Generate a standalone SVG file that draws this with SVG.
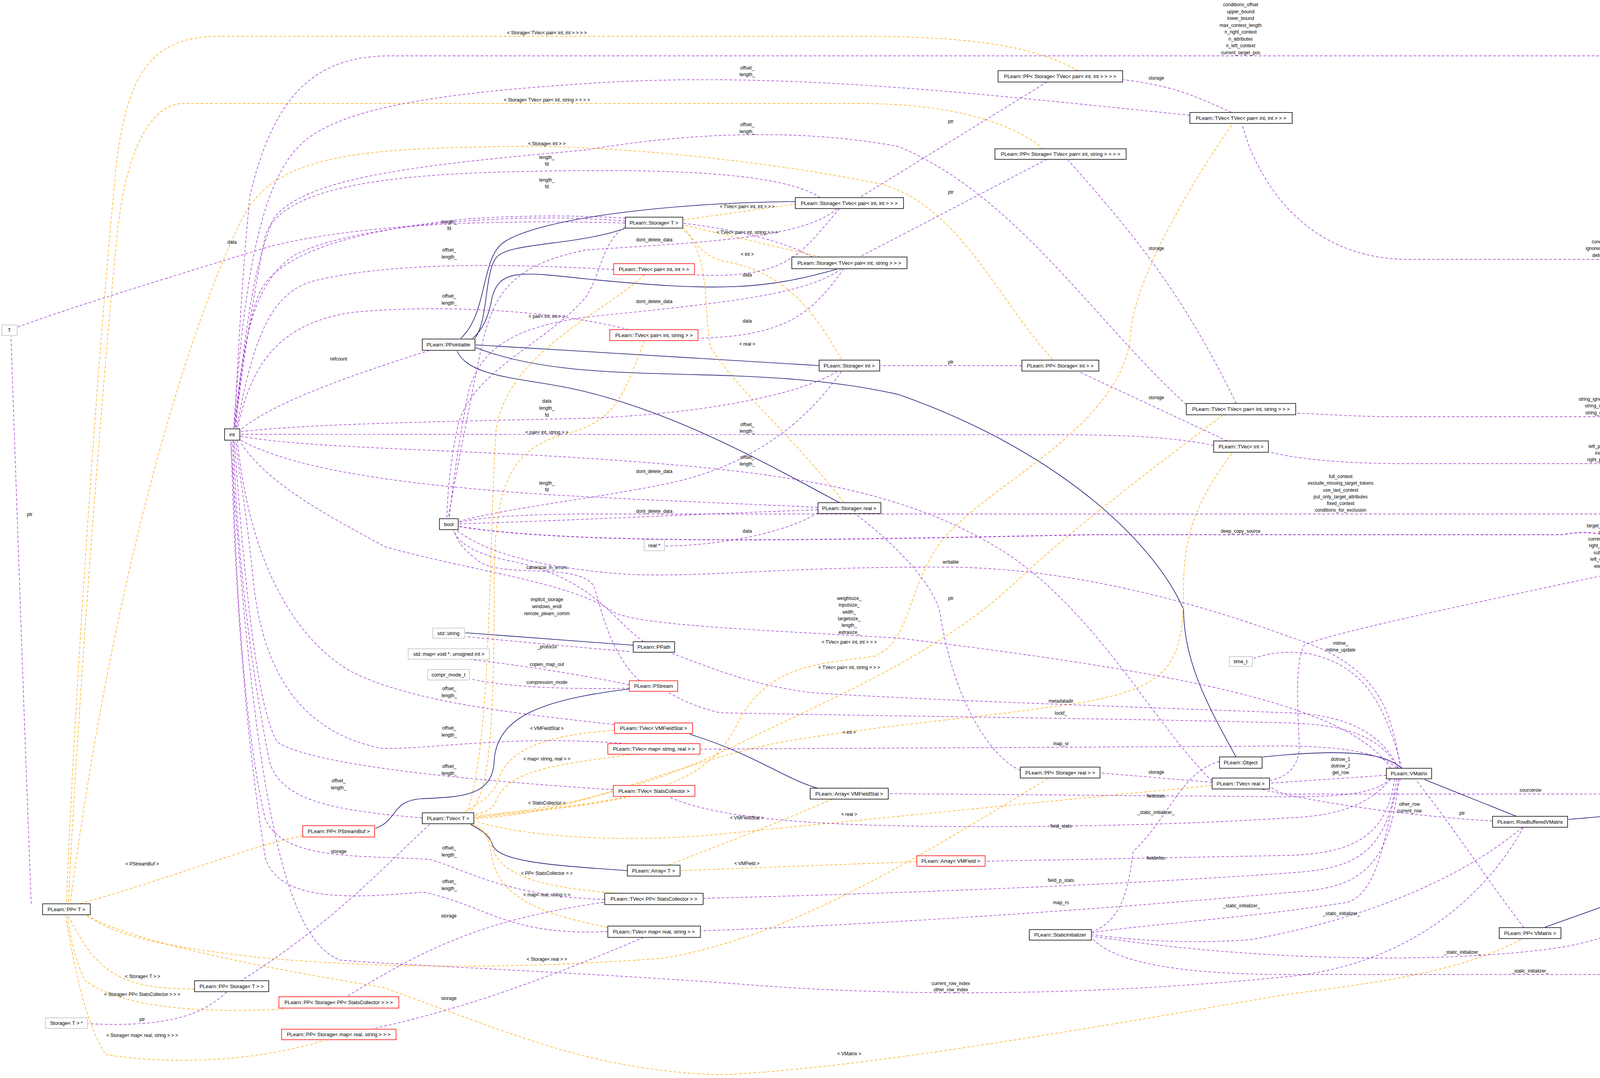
<svg xmlns="http://www.w3.org/2000/svg" width="4995" height="2760" viewBox="0 0 4995 2760">
<style>
.bg{fill:#fff}
rect.k{fill:#fff;stroke:#000;stroke-width:1.5}
rect.r{fill:#fff;stroke:#f00;stroke-width:1.5}
rect.g{fill:#fff;stroke:#bfbfbf;stroke-width:1.5}
rect.s{fill:#bfbfbf;stroke:#000;stroke-width:1.5}
text{font-family:"Liberation Sans",Arial,sans-serif;fill:#000}
.t{font-size:13px;text-anchor:middle}
.l{font-size:12px;text-anchor:middle}
path{fill:none}
.p{stroke:#9a32cd;stroke-width:1.4;stroke-dasharray:7,5;marker-end:url(#mp)}
.o{stroke:#ffa500;stroke-width:1.4;stroke-dasharray:7,5;marker-end:url(#mo)}
.n{stroke:#191970;stroke-width:1.6;marker-end:url(#mn)}
</style>
<defs>
<marker id="mp" viewBox="0 0 10 10" refX="9" refY="5" markerWidth="10" markerHeight="10" markerUnits="userSpaceOnUse" orient="auto"><path d="M0,0 L10,5 L0,10 z" fill="#9a32cd" stroke="none"/></marker>
<marker id="mo" viewBox="0 0 10 10" refX="9" refY="5" markerWidth="12" markerHeight="12" markerUnits="userSpaceOnUse" orient="auto"><path d="M0,0 L10,5 L0,10 z" fill="#ffa500" stroke="none"/></marker>
<marker id="mn" viewBox="0 0 10 10" refX="9" refY="5" markerWidth="11" markerHeight="11" markerUnits="userSpaceOnUse" orient="auto"><path d="M0,0 L10,5 L0,10 z" fill="#191970" stroke="none"/></marker>
</defs>
<rect class="bg" x="0" y="0" width="4995" height="2760"/>
<g id="edges">
<!-- inheritance -->
<path class="n" d="M1600,585 C1470,630 1300,620 1270,660 C1240,700 1250,820 1216,866"/>
<path class="n" d="M2036,516 C1700,520 1380,560 1290,620 C1230,660 1250,800 1180,866"/>
<path class="n" d="M2143,689 C1959,741 1844,748 1500,714 C1330,695 1280,690 1260,760 C1250,820 1230,850 1210,866"/>
<path class="n" d="M2097,936 L1218,883"/>
<path class="n" d="M2149,1287 C1950,1180 1700,1040 1440,990 C1300,965 1200,960 1170,899"/>
<path class="n" d="M3164,1938 C3100,1820 3030,1700 3030,1560 C2950,1380 2700,1150 2300,1010 C1900,920 1500,1000 1218,890"/>
<path class="n" d="M1621,1652 L1191,1620"/>
<path class="n" d="M1611,1764 C1400,1790 1270,1830 1265,1950 C1260,2040 1180,2040 1080,2045 C1000,2050 1020,2100 961,2121"/>
<path class="n" d="M2093,2018 C2010,1995 1930,1930 1766,1880"/>
<path class="n" d="M1606,2229 C1400,2215 1270,2205 1260,2160 C1250,2135 1230,2125 1205,2111"/>
<path class="n" d="M3589,1968 C3550,1930 3460,1915 3233,1938"/>
<path class="n" d="M3882,2090 L3647,1996"/>
<path class="n" d="M4386,2066 L4015,2098"/>
<path class="n" d="M4840,1330 L4476,2041"/>
<path class="n" d="M4210,2283 L3955,2374"/>
<!-- template -->
<path class="o" d="M2760,181 C2650,120 2500,93 2200,93 L560,93 C380,93 330,200 300,400 C250,900 190,1800 170,2312"/>
<text class="l" x="1400" y="88">&lt; Storage&lt; TVec&lt; pair&lt; int, int &gt; &gt; &gt; &gt;</text>
<path class="o" d="M2670,381 C2600,320 2450,265 2200,265 L470,265 C380,265 320,400 300,600 C260,1000 200,1800 175,2312"/>
<text class="l" x="1400" y="260">&lt; Storage&lt; TVec&lt; pair&lt; int, string &gt; &gt; &gt; &gt;</text>
<path class="o" d="M2694,920 C2550,760 2450,520 2250,470 C1900,400 1500,370 1300,375 C900,380 700,400 620,560 C500,800 300,1400 180,2312"/>
<text class="l" x="1400" y="372">&lt; Storage&lt; int &gt; &gt;</text>
<path class="o" d="M2040,522 L1750,563"/>
<text class="l" x="1913" y="533">&lt; TVec&lt; pair&lt; int, int &gt; &gt; &gt;</text>
<path class="o" d="M2100,658 L1750,576"/>
<text class="l" x="1913" y="599">&lt; TVec&lt; pair&lt; int, string &gt; &gt; &gt;</text>
<path class="o" d="M2154,920 C2080,790 2010,700 1860,670 C1800,660 1780,620 1752,584"/>
<text class="l" x="1913" y="655">&lt; int &gt;</text>
<path class="o" d="M2160,1286 C2050,1140 1880,990 1820,890 C1800,800 1820,640 1746,586"/>
<text class="l" x="1913" y="885">&lt; real &gt;</text>
<path class="o" d="M1650,703 C1550,800 1300,900 1270,1100 C1250,1400 1260,1900 1195,2080"/>
<text class="l" x="1400" y="814">&lt; pair&lt; int, int &gt; &gt;</text>
<path class="o" d="M1650,872 C1600,1000 1580,1080 1450,1110 C1300,1150 1265,1250 1265,1500 C1265,1900 1250,2040 1200,2080"/>
<path class="o" d="M3153,321 C3000,540 2900,750 2895,850 C2880,1100 2500,1250 2400,1400 C2320,1520 2330,1640 2240,1680 C2100,1700 1980,1700 1900,1830 C1820,2000 1700,2050 1215,2088"/>
<text class="l" x="2174" y="1648">&lt; TVec&lt; pair&lt; int, int &gt; &gt; &gt;</text>
<path class="o" d="M3130,1063 C2950,1200 2750,1350 2600,1490 C2400,1680 2100,1800 1900,1900 C1700,2000 1500,2060 1215,2092"/>
<text class="l" x="2174" y="1713">&lt; TVec&lt; pair&lt; int, string &gt; &gt; &gt;</text>
<path class="o" d="M3153,1161 C3080,1260 3030,1350 3030,1500 C3030,1700 3000,1760 2760,1800 C2500,1840 2300,1850 2000,1900 C1700,1960 1500,2080 1215,2096"/>
<text class="l" x="2174" y="1879">&lt; int &gt;</text>
<path class="o" d="M3103,2011 C2700,2050 2200,2100 1800,2140 C1500,2160 1300,2130 1215,2102"/>
<text class="l" x="2174" y="2089">&lt; real &gt;</text>
<path class="o" d="M1573,1870 C1420,1880 1300,1910 1275,2000 C1260,2040 1220,2060 1187,2080"/>
<text class="l" x="1400" y="1869">&lt; VMFieldStat &gt;</text>
<path class="o" d="M1610,1932 C1460,1955 1300,1965 1270,2050 C1260,2075 1240,2080 1215,2085"/>
<text class="l" x="1400" y="1947">&lt; map&lt; string, real &gt; &gt;</text>
<path class="o" d="M1615,2039 C1518,2063 1300,2085 1215,2094"/>
<text class="l" x="1400" y="2060">&lt; StatsCollector &gt;</text>
<path class="o" d="M1583,2287 C1355,2271 1268,2232 1257,2154 C1250,2130 1230,2118 1205,2110"/>
<text class="l" x="1400" y="2240">&lt; PP&lt; StatsCollector &gt; &gt;</text>
<path class="o" d="M1556,2374 C1355,2336 1268,2284 1257,2180 C1252,2140 1230,2120 1209,2110"/>
<text class="l" x="1400" y="2295">&lt; map&lt; real, string &gt; &gt;</text>
<path class="o" d="M2131,2046 C1959,2120 1844,2163 1714,2214"/>
<text class="l" x="1912" y="2098">&lt; VMFieldStat &gt;</text>
<path class="o" d="M2347,2206 L1743,2229"/>
<text class="l" x="1912" y="2215">&lt; VMField &gt;</text>
<path class="o" d="M775,2140 C650,2163 488,2232 208,2313"/>
<text class="l" x="364" y="2216">&lt; PStreamBuf &gt;</text>
<path class="o" d="M498,2532 C325,2532 249,2501 175,2344"/>
<text class="l" x="365" y="2504">&lt; Storage&lt; T &gt; &gt;</text>
<path class="o" d="M726,2584 C542,2592 325,2588 217,2510 C190,2450 180,2400 172,2344"/>
<text class="l" x="364" y="2550">&lt; Storage&lt; PP&lt; StatsCollector &gt; &gt; &gt;</text>
<path class="o" d="M824,2666 C650,2718 434,2727 271,2700 C217,2620 185,2450 168,2344"/>
<text class="l" x="364" y="2655">&lt; Storage&lt; map&lt; real, string &gt; &gt; &gt;</text>
<path class="o" d="M2682,1994 C2304,2224 2017,2397 1700,2453 C1355,2480 976,2482 650,2450 C400,2420 300,2397 222,2344"/>
<text class="l" x="1400" y="2460">&lt; Storage&lt; real &gt; &gt;</text>
<path class="o" d="M3893,2406 C3773,2466 3658,2501 3300,2545 C2648,2657 2189,2735 1844,2752 C1500,2740 1300,2640 976,2527 C650,2475 325,2406 224,2344"/>
<text class="l" x="2174" y="2702">&lt; VMatrix &gt;</text>
<!-- member: ptr / storage / data -->
<path class="p" d="M2680,210 L2202,505"/>
<text class="l" x="2434" y="315">ptr</text>
<path class="p" d="M2680,408 L2202,657"/>
<text class="l" x="2434" y="496">ptr</text>
<path class="p" d="M2616,936 L2254,936"/>
<text class="l" x="2434" y="931">ptr</text>
<path class="p" d="M2612,1972 C2533,1938 2441,1790 2407,1573 C2390,1480 2246,1357 2191,1317"/>
<text class="l" x="2434" y="1536">ptr</text>
<path class="p" d="M580,2540 C520,2597 434,2631 226,2621"/>
<text class="l" x="364" y="2614">ptr</text>
<path class="p" d="M80,2314 C60,1800 40,1200 28,861"/>
<text class="l" x="76" y="1321">ptr</text>
<path class="p" d="M1600,571 C1200,560 900,580 694,630 C500,690 200,780 46,837"/>
<text class="l" x="594" y="624">data</text>
<path class="p" d="M3153,288 C3050,241 3000,220 2876,204"/>
<text class="l" x="2960" y="204">storage</text>
<path class="p" d="M3165,1033 C3050,800 2950,650 2734,410"/>
<text class="l" x="2960" y="640">storage</text>
<path class="p" d="M3142,1129 L2763,952"/>
<text class="l" x="2960" y="1022">storage</text>
<path class="p" d="M3103,2003 L2818,1979"/>
<text class="l" x="2960" y="1981">storage</text>
<path class="p" d="M1100,2111 C1000,2200 867,2354 618,2510"/>
<text class="l" x="867" y="2184">storage</text>
<path class="p" d="M1545,2310 C1247,2354 1100,2420 889,2551"/>
<text class="l" x="1149" y="2349">storage</text>
<path class="p" d="M1648,2400 C1409,2501 1200,2580 954,2634"/>
<text class="l" x="1149" y="2560">storage</text>
<path class="p" d="M2149,534 C2050,650 2017,714 1780,704"/>
<text class="l" x="1913" y="708">data</text>
<path class="p" d="M2160,688 C2080,800 2017,860 1789,866"/>
<text class="l" x="1913" y="826">data</text>
<path class="p" d="M2094,1313 C1994,1375 1800,1398 1703,1398"/>
<text class="l" x="1913" y="1364">data</text>
<!-- to int -->
<path class="p" d="M1601,566 C1300,540 900,580 760,650 C640,720 620,900 600,1096"/>
<text class="l" x="1150" y="572">length_</text><text class="l" x="1150" y="589">fd</text>
<path class="p" d="M2100,506 C2000,440 1700,430 1300,440 C900,450 720,500 680,600 C640,800 620,950 602,1096"/>
<text class="l" x="1400" y="407">length_</text><text class="l" x="1400" y="424">fd</text>
<path class="p" d="M2080,658 C1900,560 1500,540 1200,560 C900,590 700,650 660,760 C630,850 615,950 604,1096"/>
<text class="l" x="1400" y="465">length_</text><text class="l" x="1400" y="482">fd</text>
<path class="p" d="M1571,690 C1300,675 1000,670 800,720 C700,750 650,850 606,1096"/>
<text class="l" x="1150" y="644">offset_</text><text class="l" x="1150" y="662">length_</text>
<path class="p" d="M1610,844 C1400,790 1100,780 900,800 C700,830 640,950 608,1097"/>
<text class="l" x="1150" y="762">offset_</text><text class="l" x="1150" y="780">length_</text>
<path class="p" d="M3046,295 C2500,240 2000,180 1500,214 C1100,240 850,280 760,380 C650,500 620,800 598,1096"/>
<text class="l" x="1913" y="178">offset_</text><text class="l" x="1913" y="195">length_</text>
<path class="p" d="M3037,1036 C2800,820 2600,500 2300,375 C2000,320 1700,350 1500,384 C1100,420 780,450 700,560 C640,700 625,900 600,1096"/>
<text class="l" x="1913" y="323">offset_</text><text class="l" x="1913" y="341">length_</text>
<path class="p" d="M3107,1140 C3000,1120 2900,1113 2700,1113 L616,1112"/>
<text class="l" x="1913" y="1091">offset_</text><text class="l" x="1913" y="1108">length_</text>
<text class="l" x="1400" y="1111">&lt; pair&lt; int, string &gt; &gt;</text>
<path class="p" d="M3103,2000 C2950,1850 2800,1550 2550,1400 C2300,1250 2000,1210 1600,1180 C1200,1150 800,1150 616,1117"/>
<text class="l" x="1913" y="1175">offset_</text><text class="l" x="1913" y="1192">length_</text>
<path class="p" d="M1100,897 C900,960 700,1030 616,1100"/>
<text class="l" x="867" y="923">refcount</text>
<path class="p" d="M1081,2094 C850,2075 720,2050 690,1950 C640,1700 605,1400 598,1129"/>
<text class="l" x="867" y="2003">offset_</text><text class="l" x="867" y="2021">length_</text>
<path class="p" d="M1573,1855 C1300,1825 1050,1795 900,1720 C760,1640 640,1450 608,1129"/>
<text class="l" x="1150" y="1767">offset_</text><text class="l" x="1150" y="1785">length_</text>
<path class="p" d="M1604,1904 C1300,1880 1100,1920 976,1916 C800,1880 680,1760 650,1500 C630,1300 610,1200 604,1129"/>
<text class="l" x="1150" y="1868">offset_</text><text class="l" x="1150" y="1886">length_</text>
<path class="p" d="M1570,2022 C1200,1998 800,1960 710,1900 C650,1800 620,1400 600,1129"/>
<text class="l" x="1150" y="1966">offset_</text><text class="l" x="1150" y="1984">length_</text>
<path class="p" d="M1548,2303 C1300,2295 1200,2230 1100,2200 C900,2190 730,2200 680,2100 C630,1900 600,1500 596,1129"/>
<text class="l" x="1150" y="2175">offset_</text><text class="l" x="1150" y="2193">length_</text>
<path class="p" d="M1556,2385 C1300,2397 1250,2320 1084,2284 C900,2300 720,2310 680,2200 C630,1900 600,1500 592,1129"/>
<text class="l" x="1150" y="2261">offset_</text><text class="l" x="1150" y="2279">length_</text>
<path class="p" d="M2143,951 C2050,1010 1800,1060 1500,1071 C1100,1080 800,1085 616,1105"/>
<text class="l" x="1400" y="1031">data</text><text class="l" x="1400" y="1049">length_</text><text class="l" x="1400" y="1067">fd</text>
<path class="p" d="M2094,1299 C1800,1285 1500,1275 1300,1259 C1000,1235 750,1200 616,1127"/>
<text class="l" x="1400" y="1241">length_</text><text class="l" x="1400" y="1258">fd</text>
<path class="p" d="M3560,1967 C3450,1800 3000,1720 2304,1634 C1900,1610 1600,1600 1560,1560 C1450,1490 1200,1460 986,1400 C800,1300 680,1230 614,1131"/>
<text class="l" x="2174" y="1536">weightsize_</text><text class="l" x="2174" y="1553">inputsize_</text><text class="l" x="2174" y="1571">width_</text><text class="l" x="2174" y="1588">targetsize_</text><text class="l" x="2174" y="1605">length_</text><text class="l" x="2174" y="1623">extrasize_</text>
<path class="p" d="M3900,2118 C3800,2300 3600,2470 3300,2500 C2900,2540 2400,2560 1900,2520 C1500,2490 1000,2470 870,2458 C720,2400 650,2000 590,1129"/>
<text class="l" x="2434" y="2522">current_row_index</text><text class="l" x="2434" y="2538">other_row_index</text>
<path class="p" d="M4935,1301 C4900,900 4850,300 4700,143 L1000,143 C800,143 700,250 640,500 C620,700 610,900 600,1096"/>
<text class="l" x="3176" y="16">conditions_offset</text><text class="l" x="3176" y="34">upper_bound</text><text class="l" x="3176" y="51">lower_bound</text><text class="l" x="3176" y="69">max_context_length</text><text class="l" x="3176" y="86">n_right_context</text><text class="l" x="3176" y="104">n_attributes</text><text class="l" x="3176" y="121">n_left_context</text><text class="l" x="3176" y="139">current_target_pos</text>
<!-- to bool -->
<path class="p" d="M2143,534 C2060,610 1800,620 1500,640 C1300,680 1260,760 1230,900 C1190,1100 1160,1250 1148,1326"/>
<text class="l" x="1675" y="618">dont_delete_data</text>
<path class="p" d="M2154,688 C2060,760 1800,780 1500,812 C1300,840 1230,900 1200,1000 C1170,1150 1155,1280 1150,1326"/>
<text class="l" x="1675" y="776">dont_delete_data</text>
<path class="p" d="M1601,580 C1540,620 1540,700 1500,760 C1400,880 1200,950 1170,1100 C1150,1200 1145,1280 1144,1326"/>
<path class="p" d="M2154,951 C2050,1100 1900,1200 1700,1240 C1500,1280 1300,1300 1175,1335"/>
<text class="l" x="1675" y="1211">dont_delete_data</text>
<path class="p" d="M2094,1305 C1700,1320 1400,1335 1175,1341"/>
<text class="l" x="1675" y="1313">dont_delete_data</text>
<path class="p" d="M1648,1643 C1560,1580 1520,1480 1300,1435 C1230,1420 1180,1400 1160,1358"/>
<text class="l" x="1400" y="1457">canonical_in_errors</text>
<path class="p" d="M1637,1743 C1560,1670 1540,1560 1520,1500 C1480,1440 1300,1480 1230,1440 C1190,1410 1170,1390 1163,1358"/>
<text class="l" x="1400" y="1539">implicit_storage</text><text class="l" x="1400" y="1557">windows_endl</text><text class="l" x="1400" y="1575">remote_plearn_comm</text>
<path class="p" d="M4712,1316 L1500,1316 C1300,1316 1200,1330 1175,1338"/>
<text class="l" x="3432" y="1224">full_context</text><text class="l" x="3432" y="1241">exclude_missing_target_tokens</text><text class="l" x="3432" y="1259">use_last_context</text><text class="l" x="3432" y="1276">put_only_target_attributes</text><text class="l" x="3432" y="1293">fixed_context</text><text class="l" x="3432" y="1310">conditions_for_exclusion</text>
<path class="p" style="stroke-width:2.2" d="M4460,2043 C4440,1800 4380,1550 4230,1440 C4150,1380 4100,1350 4000,1369 L2800,1369 C2200,1380 1500,1400 1175,1348"/>
<text class="l" x="3176" y="1364">deep_copy_source</text>
<path class="p" d="M3585,1967 C3560,1800 3520,1700 3300,1630 C3000,1520 2700,1455 2434,1452 C2000,1450 1800,1480 1600,1470 C1400,1455 1250,1420 1170,1358"/>
<text class="l" x="2434" y="1443">writable</text>
<!-- stream / path -->
<path class="p" d="M1611,1668 C1450,1655 1300,1640 1191,1630"/>
<text class="l" x="1400" y="1660">_protocol</text>
<path class="p" d="M1611,1753 C1450,1720 1300,1700 1202,1688"/>
<text class="l" x="1400" y="1705">copies_map_out</text>
<path class="p" d="M1611,1762 C1450,1765 1300,1760 1204,1738"/>
<text class="l" x="1400" y="1751">compression_mode</text>
<!-- ProcessSymbolic -->
<path class="p" d="M4920,1301 C4880,1000 4800,700 4500,664 L3600,664 C3300,660 3200,400 3180,318"/>
<text class="l" x="4102" y="623">conditions</text><text class="l" x="4102" y="640">ignored_context</text><text class="l" x="4102" y="658">delimiters</text>
<path class="p" d="M4900,1301 C4820,1160 4700,1067 4400,1067 L3600,1067 C3450,1067 3400,1060 3319,1058"/>
<text class="l" x="4102" y="1026">string_ignored_context</text><text class="l" x="4102" y="1043">string_conditions</text><text class="l" x="4102" y="1061">string_delimiters</text>
<path class="p" d="M4880,1301 C4800,1220 4600,1187 4450,1187 L3600,1187 C3400,1187 3300,1170 3249,1157"/>
<text class="l" x="4102" y="1147">left_positions</text><text class="l" x="4102" y="1164">indices</text><text class="l" x="4102" y="1181">right_positions</text>
<path class="p" d="M4769,1332 C4600,1370 4460,1400 4001,1495 C3700,1560 3429,1617 3340,1650 C3310,1700 3326,1850 3326,1920 C3320,1970 3290,1990 3252,1998"/>
<text class="l" x="4102" y="1350">target_element</text><text class="l" x="4102" y="1367">row</text><text class="l" x="4102" y="1384">current_row_i</text><text class="l" x="4102" y="1401">right_context</text><text class="l" x="4102" y="1419">subinput</text><text class="l" x="4102" y="1436">left_context</text><text class="l" x="4102" y="1454">element</text>
<path class="p" d="M4850,1330 C4840,1800 4780,2300 4680,2520 C4640,2570 4580,2570 4538,2560"/>
<text class="l" x="4628" y="2526">current_context_pos</text>
<path class="p" d="M4860,1330 C4820,1900 4700,2400 4470,2495 L3300,2495 C3000,2495 2850,2460 2796,2403"/>
<text class="l" x="3917" y="2490">_static_initializer_</text>
<!-- SourceVMatrix / RowBuffered / VMatrix -->
<path class="p" d="M4420,2071 L4262,2254"/>
<text class="l" x="4343" y="2152">source</text>
<path class="p" d="M4386,2048 C4300,2030 4200,2033 4000,2033 L3300,2033 C3270,2030 3260,2020 3252,2014"/>
<text class="l" x="3918" y="2027">sourcerow</text>
<path class="p" d="M4460,2072 C4380,2250 4250,2380 4000,2425 C3700,2470 3200,2460 2796,2397"/>
<text class="l" x="3743" y="2442">_static_initializer_</text>
<path class="p" d="M3821,2102 C3543,2085 3314,2042 3231,2021"/>
<text class="l" x="3608" y="2063">other_row</text><text class="l" x="3608" y="2080">current_row</text>
<path class="p" d="M3898,2118 C3773,2224 3543,2345 3200,2406 C3000,2420 2850,2400 2796,2393"/>
<text class="l" x="3434" y="2343">_static_initializer_</text>
<path class="p" d="M3901,2375 C3818,2267 3715,2111 3625,1997"/>
<text class="l" x="3743" y="2086">ptr</text>
<path class="p" d="M3549,1985 L3252,2005"/>
<text class="l" x="3432" y="1948">dotrow_1</text><text class="l" x="3432" y="1965">dotrow_2</text><text class="l" x="3432" y="1982">get_row</text>
<path class="p" d="M3589,1968 C3543,1790 3486,1703 3349,1673 C3280,1665 3240,1675 3208,1686"/>
<text class="l" x="3432" y="1651">mtime_</text><text class="l" x="3432" y="1668">mtime_update</text>
<path class="p" d="M3585,1994 C3545,2100 3540,2280 3450,2310 C3200,2350 2900,2370 2796,2388"/>
<text class="l" x="3178" y="2323">_static_initializer_</text>
<path class="p" d="M3122,1950 C3027,1972 2993,2094 2901,2180 C2889,2267 2877,2354 2796,2386"/>
<text class="l" x="2959" y="2084">_static_initializer_</text>
<path class="p" d="M3580,1967 C3540,1880 3450,1830 3300,1825 C2900,1810 2300,1790 2074,1773 C1900,1750 1800,1700 1714,1671"/>
<text class="l" x="2716" y="1799">metadatadir</text>
<path class="p" d="M3578,1967 C3540,1890 3450,1855 3300,1851 C2900,1840 2300,1834 1844,1825 C1780,1810 1740,1790 1709,1771"/>
<text class="l" x="2716" y="1830">lockf_</text>
<path class="p" d="M3575,1967 C3540,1930 3450,1912 3300,1910 L1794,1918"/>
<text class="l" x="2716" y="1908">map_sr</text>
<path class="p" d="M3560,1994 C3520,2030 3450,2040 3300,2040 L2276,2032"/>
<text class="l" x="2959" y="2042">fieldstats</text>
<path class="p" d="M3560,1994 C3500,2070 3400,2090 3300,2094 C2900,2120 2400,2120 2189,2111 C1900,2100 1780,2070 1714,2041"/>
<text class="l" x="2716" y="2119">field_stats</text>
<path class="p" d="M3570,1994 C3550,2150 3450,2185 3300,2190 L2524,2205"/>
<text class="l" x="2959" y="2201">fieldinfos</text>
<path class="p" d="M3575,1994 C3550,2200 3450,2225 3300,2235 C2800,2270 2200,2290 1802,2300"/>
<text class="l" x="2716" y="2258">field_p_stats</text>
<path class="p" d="M3580,1994 C3560,2250 3450,2275 3300,2285 C2800,2330 2200,2370 1795,2383"/>
<text class="l" x="2716" y="2315">map_rs</text>
</g>
<g id="n_T"><rect class="g" x="5" y="832" width="39" height="27"/><text class="t" x="24" y="850">T</text></g>
<g id="n_int"><rect class="k" x="575" y="1098" width="39" height="29"/><text class="t" x="594" y="1117">int</text></g>
<g id="n_PPointable"><rect class="k" x="1081" y="868" width="135" height="29"/><text class="t" x="1148" y="887">PLearn::PPointable</text></g>
<g id="n_bool"><rect class="k" x="1125" y="1328" width="48" height="28"/><text class="t" x="1149" y="1347">bool</text></g>
<g id="n_StorageT"><rect class="k" x="1601" y="556" width="147" height="28"/><text class="t" x="1674" y="575">PLearn::Storage&lt; T &gt;</text></g>
<g id="n_TVpii"><rect class="r" x="1571" y="675" width="207" height="28"/><text class="t" x="1674" y="694">PLearn::TVec&lt; pair&lt; int, int &gt; &gt;</text></g>
<g id="n_TVpis"><rect class="r" x="1561" y="844" width="226" height="28"/><text class="t" x="1674" y="863">PLearn::TVec&lt; pair&lt; int, string &gt; &gt;</text></g>
<g id="n_StTVpii"><rect class="k" x="2036" y="506" width="277" height="28"/><text class="t" x="2174" y="525">PLearn::Storage&lt; TVec&lt; pair&lt; int, int &gt; &gt; &gt;</text></g>
<g id="n_StTVpis"><rect class="k" x="2027" y="658" width="295" height="30"/><text class="t" x="2174" y="678">PLearn::Storage&lt; TVec&lt; pair&lt; int, string &gt; &gt; &gt;</text></g>
<g id="n_StInt"><rect class="k" x="2097" y="922" width="155" height="28"/><text class="t" x="2174" y="941">PLearn::Storage&lt; int &gt;</text></g>
<g id="n_StReal"><rect class="k" x="2094" y="1287" width="161" height="28"/><text class="t" x="2174" y="1306">PLearn::Storage&lt; real &gt;</text></g>
<g id="n_realstar"><rect class="g" x="1649" y="1382" width="52" height="28"/><text class="t" x="1675" y="1401">real *</text></g>
<g id="n_PPStTVpii"><rect class="k" x="2555" y="181" width="319" height="29"/><text class="t" x="2714" y="200">PLearn::PP&lt; Storage&lt; TVec&lt; pair&lt; int, int &gt; &gt; &gt; &gt;</text></g>
<g id="n_PPStTVpis"><rect class="k" x="2547" y="381" width="336" height="27"/><text class="t" x="2715" y="399">PLearn::PP&lt; Storage&lt; TVec&lt; pair&lt; int, string &gt; &gt; &gt; &gt;</text></g>
<g id="n_PPStInt"><rect class="k" x="2616" y="922" width="197" height="28"/><text class="t" x="2714" y="941">PLearn::PP&lt; Storage&lt; int &gt; &gt;</text></g>
<g id="n_TVTVpii"><rect class="k" x="3046" y="288" width="262" height="28"/><text class="t" x="3177" y="307">PLearn::TVec&lt; TVec&lt; pair&lt; int, int &gt; &gt; &gt;</text></g>
<g id="n_TVTVpis"><rect class="k" x="3037" y="1033" width="280" height="29"/><text class="t" x="3177" y="1052">PLearn::TVec&lt; TVec&lt; pair&lt; int, string &gt; &gt; &gt;</text></g>
<g id="n_TVint"><rect class="k" x="3107" y="1129" width="140" height="29"/><text class="t" x="3177" y="1148">PLearn::TVec&lt; int &gt;</text></g>
<g id="n_PSV"><rect class="s" x="4712" y="1301" width="276" height="29"/><text class="t" x="4850" y="1320">PLearn::ProcessSymbolicSequenceVMatrix</text></g>
<g id="n_stdstring"><rect class="g" x="1108" y="1608" width="81" height="26"/><text class="t" x="1148" y="1626">std::string</text></g>
<g id="n_stdmap"><rect class="g" x="1045" y="1661" width="208" height="27"/><text class="t" x="1149" y="1679">std::map&lt; void *, unsigned int &gt;</text></g>
<g id="n_comprmode"><rect class="g" x="1095" y="1714" width="107" height="27"/><text class="t" x="1148" y="1732">compr_mode_t</text></g>
<g id="n_PPath"><rect class="k" x="1621" y="1643" width="106" height="27"/><text class="t" x="1674" y="1661">PLearn::PPath</text></g>
<g id="n_PStream"><rect class="r" x="1611" y="1743" width="124" height="27"/><text class="t" x="1673" y="1761">PLearn::PStream</text></g>
<g id="n_TVVMFS"><rect class="r" x="1573" y="1851" width="200" height="27"/><text class="t" x="1673" y="1869">PLearn::TVec&lt; VMFieldStat &gt;</text></g>
<g id="n_TVmapsr"><rect class="r" x="1556" y="1904" width="236" height="27"/><text class="t" x="1674" y="1922">PLearn::TVec&lt; map&lt; string, real &gt; &gt;</text></g>
<g id="n_TVSC"><rect class="r" x="1570" y="2011" width="209" height="28"/><text class="t" x="1674" y="2030">PLearn::TVec&lt; StatsCollector &gt;</text></g>
<g id="n_ArrVMFS"><rect class="k" x="2074" y="2018" width="200" height="28"/><text class="t" x="2174" y="2037">PLearn::Array&lt; VMFieldStat &gt;</text></g>
<g id="n_PPStReal"><rect class="k" x="2612" y="1964" width="204" height="28"/><text class="t" x="2714" y="1983">PLearn::PP&lt; Storage&lt; real &gt; &gt;</text></g>
<g id="n_Object"><rect class="k" x="3122" y="1938" width="109" height="29"/><text class="t" x="3176" y="1957">PLearn::Object</text></g>
<g id="n_TVreal"><rect class="k" x="3103" y="1992" width="147" height="28"/><text class="t" x="3176" y="2011">PLearn::TVec&lt; real &gt;</text></g>
<g id="n_time_t"><rect class="g" x="3147" y="1681" width="59" height="25"/><text class="t" x="3176" y="1698">time_t</text></g>
<g id="n_ArrT"><rect class="k" x="1606" y="2215" width="135" height="28"/><text class="t" x="1673" y="2234">PLearn::Array&lt; T &gt;</text></g>
<g id="n_ArrVMF"><rect class="r" x="2347" y="2191" width="175" height="27"/><text class="t" x="2434" y="2209">PLearn::Array&lt; VMField &gt;</text></g>
<g id="n_TVPPSC"><rect class="k" x="1548" y="2287" width="252" height="29"/><text class="t" x="1674" y="2306">PLearn::TVec&lt; PP&lt; StatsCollector &gt; &gt;</text></g>
<g id="n_TVmaprs"><rect class="k" x="1556" y="2371" width="237" height="29"/><text class="t" x="1674" y="2390">PLearn::TVec&lt; map&lt; real, string &gt; &gt;</text></g>
<g id="n_StaticInit"><rect class="k" x="2635" y="2380" width="159" height="27"/><text class="t" x="2714" y="2398">PLearn::StaticInitializer</text></g>
<g id="n_TVT"><rect class="k" x="1081" y="2081" width="132" height="28"/><text class="t" x="1147" y="2100">PLearn::TVec&lt; T &gt;</text></g>
<g id="n_PPPSB"><rect class="r" x="775" y="2114" width="184" height="29"/><text class="t" x="867" y="2133">PLearn::PP&lt; PStreamBuf &gt;</text></g>
<g id="n_PPT"><rect class="k" x="109" y="2314" width="122" height="28"/><text class="t" x="170" y="2333">PLearn::PP&lt; T &gt;</text></g>
<g id="n_PPStT"><rect class="k" x="498" y="2511" width="190" height="28"/><text class="t" x="593" y="2530">PLearn::PP&lt; Storage&lt; T &gt; &gt;</text></g>
<g id="n_PPStPPSC"><rect class="r" x="714" y="2552" width="307" height="29"/><text class="t" x="867" y="2571">PLearn::PP&lt; Storage&lt; PP&lt; StatsCollector &gt; &gt; &gt;</text></g>
<g id="n_StTstar"><rect class="g" x="116" y="2606" width="108" height="27"/><text class="t" x="170" y="2624">Storage&lt; T &gt; *</text></g>
<g id="n_PPStmaprs"><rect class="r" x="721" y="2635" width="293" height="27"/><text class="t" x="867" y="2653">PLearn::PP&lt; Storage&lt; map&lt; real, string &gt; &gt; &gt;</text></g>
<g id="n_VMatrix"><rect class="k" x="3549" y="1967" width="116" height="27"/><text class="t" x="3607" y="1985">PLearn::VMatrix</text></g>
<g id="n_SourceVM"><rect class="k" x="4386" y="2043" width="157" height="28"/><text class="t" x="4464" y="2062">PLearn::SourceVMatrix</text></g>
<g id="n_RowBuf"><rect class="k" x="3821" y="2090" width="192" height="28"/><text class="t" x="3917" y="2109">PLearn::RowBufferedVMatrix</text></g>
<g id="n_VMat"><rect class="k" x="4195" y="2255" width="102" height="28"/><text class="t" x="4246" y="2274">PLearn::VMat</text></g>
<g id="n_PPVM"><rect class="k" x="3838" y="2375" width="158" height="28"/><text class="t" x="3917" y="2394">PLearn::PP&lt; VMatrix &gt;</text></g>
<g id="n_hashmap"><rect class="g" x="4394" y="2532" width="142" height="29"/><text class="t" x="4465" y="2551">hash_map&lt; int, int &gt;</text></g>
</svg>
